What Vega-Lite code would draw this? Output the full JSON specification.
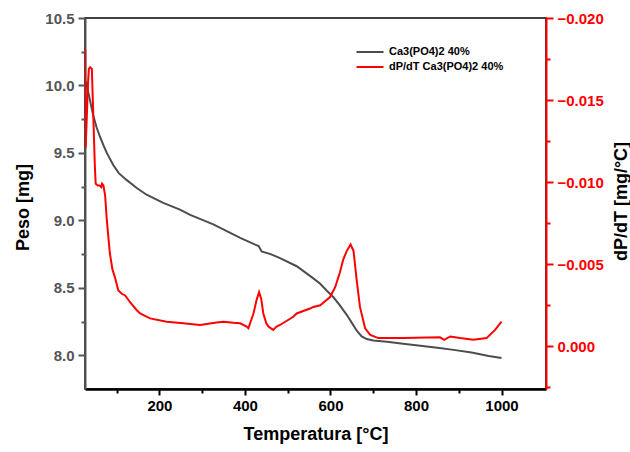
{
  "$schema": "https://vega.github.io/schema/vega-lite/v6.json",
  "width": 461,
  "height": 371,
  "autosize": {"type": "none"},
  "padding": {"left": 85, "top": 18, "right": 84, "bottom": 63},
  "background": "white",
  "config": {
    "font": "Liberation Sans",
    "view": {"stroke": "#000000", "strokeWidth": 1.5},
    "axis": {"grid": false, "labelFontWeight": "bold", "labelFontSize": 15, "titleFontSize": 18, "titleFontWeight": "bold", "titleColor": "#000000", "labelFont": "Liberation Sans", "titleFont": "Liberation Sans"}
  },
  "datasets": {
    "peso": [
      {"T": 28, "W": 10.03}, {"T": 35, "W": 9.93}, {"T": 45, "W": 9.78}, {"T": 53, "W": 9.69},
      {"T": 61, "W": 9.62}, {"T": 70, "W": 9.55}, {"T": 77, "W": 9.5}, {"T": 92, "W": 9.41},
      {"T": 105, "W": 9.35}, {"T": 123, "W": 9.3}, {"T": 147, "W": 9.24}, {"T": 170, "W": 9.19},
      {"T": 209, "W": 9.13}, {"T": 248, "W": 9.08}, {"T": 272, "W": 9.04}, {"T": 326, "W": 8.97},
      {"T": 389, "W": 8.87}, {"T": 424, "W": 8.82}, {"T": 432, "W": 8.81}, {"T": 439, "W": 8.77},
      {"T": 460, "W": 8.75}, {"T": 482, "W": 8.72}, {"T": 521, "W": 8.66}, {"T": 560, "W": 8.57},
      {"T": 576, "W": 8.53}, {"T": 591, "W": 8.48}, {"T": 607, "W": 8.43}, {"T": 622, "W": 8.37},
      {"T": 638, "W": 8.3}, {"T": 650, "W": 8.24}, {"T": 662, "W": 8.18}, {"T": 673, "W": 8.14},
      {"T": 685, "W": 8.12}, {"T": 700, "W": 8.11}, {"T": 732, "W": 8.1}, {"T": 770, "W": 8.085},
      {"T": 810, "W": 8.07}, {"T": 850, "W": 8.055}, {"T": 888, "W": 8.04}, {"T": 930, "W": 8.02},
      {"T": 970, "W": 7.995}, {"T": 1000, "W": 7.98}
    ],
    "deriv": [
      {"T": 26.5, "D": -0.0181}, {"T": 27.5, "D": -0.0121}, {"T": 30, "D": -0.0138}, {"T": 33, "D": -0.016},
      {"T": 35, "D": -0.0169}, {"T": 38, "D": -0.017}, {"T": 42, "D": -0.0169}, {"T": 45, "D": -0.0144},
      {"T": 49, "D": -0.011}, {"T": 51, "D": -0.0099}, {"T": 56, "D": -0.0098}, {"T": 60, "D": -0.0098},
      {"T": 64, "D": -0.0097}, {"T": 66, "D": -0.0099}, {"T": 69, "D": -0.0098}, {"T": 73, "D": -0.0092},
      {"T": 77, "D": -0.0077}, {"T": 84, "D": -0.0057}, {"T": 90, "D": -0.0047}, {"T": 96, "D": -0.0042},
      {"T": 104, "D": -0.0034}, {"T": 112, "D": -0.0032}, {"T": 120, "D": -0.0031}, {"T": 131, "D": -0.0027},
      {"T": 147, "D": -0.0022}, {"T": 155, "D": -0.002}, {"T": 178, "D": -0.0017}, {"T": 217, "D": -0.0015},
      {"T": 256, "D": -0.0014}, {"T": 295, "D": -0.0013}, {"T": 334, "D": -0.00145}, {"T": 350, "D": -0.0015},
      {"T": 373, "D": -0.00143}, {"T": 389, "D": -0.0014}, {"T": 404, "D": -0.0012}, {"T": 408, "D": -0.0011},
      {"T": 420, "D": -0.002}, {"T": 427, "D": -0.0028}, {"T": 433, "D": -0.0033}, {"T": 438, "D": -0.0029},
      {"T": 443, "D": -0.002}, {"T": 450, "D": -0.0014}, {"T": 455, "D": -0.0012}, {"T": 466, "D": -0.001},
      {"T": 474, "D": -0.0012}, {"T": 482, "D": -0.0013}, {"T": 513, "D": -0.0018}, {"T": 521, "D": -0.002},
      {"T": 552, "D": -0.0023}, {"T": 560, "D": -0.0024}, {"T": 576, "D": -0.0025}, {"T": 599, "D": -0.003},
      {"T": 611, "D": -0.0036}, {"T": 622, "D": -0.0045}, {"T": 630, "D": -0.0053}, {"T": 638, "D": -0.0058},
      {"T": 647, "D": -0.0062}, {"T": 654, "D": -0.0058}, {"T": 661, "D": -0.0041}, {"T": 669, "D": -0.0024},
      {"T": 681, "D": -0.0011}, {"T": 693, "D": -0.0007}, {"T": 712, "D": -0.0005}, {"T": 770, "D": -0.0005},
      {"T": 856, "D": -0.00055}, {"T": 866, "D": -0.0004}, {"T": 880, "D": -0.0006}, {"T": 903, "D": -0.0005},
      {"T": 934, "D": -0.0004}, {"T": 965, "D": -0.0005}, {"T": 985, "D": -0.001}, {"T": 1000, "D": -0.0015}
    ]
  },
  "encoding": {
    "x": {
      "field": "T", "type": "quantitative",
      "scale": {"domain": [26, 1104], "nice": false, "zero": false},
      "axis": {
        "title": "Temperatura [°C]",
        "values": [100, 200, 300, 400, 500, 600, 700, 800, 900, 1000],
        "labelExpr": "datum.value % 200 == 0 ? datum.label : ''",
        "format": "d",
        "domainColor": "#000000", "domainWidth": 2.5,
        "tickColor": "#000000", "tickWidth": 2,
        "tickSize": {"condition": {"test": "datum.value % 200 != 0", "value": 4}, "value": 6},
        "labelColor": "#000000", "labelPadding": 3, "titlePadding": 12
      }
    }
  },
  "layer": [
    {
      "data": {"name": "peso"},
      "mark": {"type": "line", "strokeWidth": 2, "clip": true},
      "encoding": {
        "y": {
          "field": "W", "type": "quantitative",
          "scale": {"domain": [7.75, 10.5], "nice": false, "zero": false},
          "axis": {
            "title": "Peso [mg]", "orient": "left",
            "values": [8, 8.25, 8.5, 8.75, 9, 9.25, 9.5, 9.75, 10, 10.25, 10.5],
            "labelExpr": "(datum.value * 2) % 1 == 0 ? format(datum.value, '.1f') : ''",
            "domainColor": "#555555", "domainWidth": 2,
            "tickColor": "#555555", "tickWidth": 2,
            "tickSize": {"condition": {"test": "(datum.value * 2) % 1 != 0", "value": 4}, "value": 7},
            "labelColor": "#555555", "labelPadding": 4,
            "titleX": -62, "titleY": 189, "titleBaseline": "middle", "titleAlign": "center", "titleAngle": 270
          }
        },
        "color": {
          "datum": "Ca3(PO4)2 40%",
          "scale": {"domain": ["Ca3(PO4)2 40%", "dP/dT Ca3(PO4)2 40%"], "range": ["#4d4d4d", "#ff0000"]},
          "legend": {
            "title": null, "orient": "none", "legendX": 277, "legendY": 26,
            "symbolType": "M-2,0H2", "symbolSize": 182, "symbolStrokeWidth": 2,
            "labelFontSize": 11, "labelFontWeight": "bold", "labelFont": "Liberation Sans",
            "labelColor": "#000000", "labelOffset": 11, "rowPadding": 2
          }
        }
      }
    },
    {
      "data": {"name": "deriv"},
      "mark": {"type": "line", "strokeWidth": 2, "clip": true},
      "encoding": {
        "y": {
          "field": "D", "type": "quantitative",
          "scale": {"domain": [-0.02, 0.0026], "nice": false, "zero": false, "reverse": true},
          "axis": {
            "title": "dP/dT [mg/°C]", "orient": "right",
            "values": [-0.02, -0.0175, -0.015, -0.0125, -0.01, -0.0075, -0.005, -0.0025, 0, 0.0025],
            "labelExpr": "abs(datum.value * 200 - round(datum.value * 200)) < 0.01 ? format(datum.value, '.3f') : ''",
            "domainColor": "#ff0000", "domainWidth": 2,
            "tickColor": "#ff0000", "tickWidth": 2,
            "tickSize": {"condition": {"test": "abs(datum.value * 200 - round(datum.value * 200)) >= 0.01", "value": 4}, "value": 7},
            "labelColor": "#ff0000", "labelPadding": 4,
            "titleX": 75, "titleY": 183, "titleBaseline": "middle", "titleAlign": "center", "titleAngle": 270
          }
        },
        "color": {"datum": "dP/dT Ca3(PO4)2 40%"}
      }
    }
  ],
  "resolve": {"scale": {"y": "independent"}}
}
